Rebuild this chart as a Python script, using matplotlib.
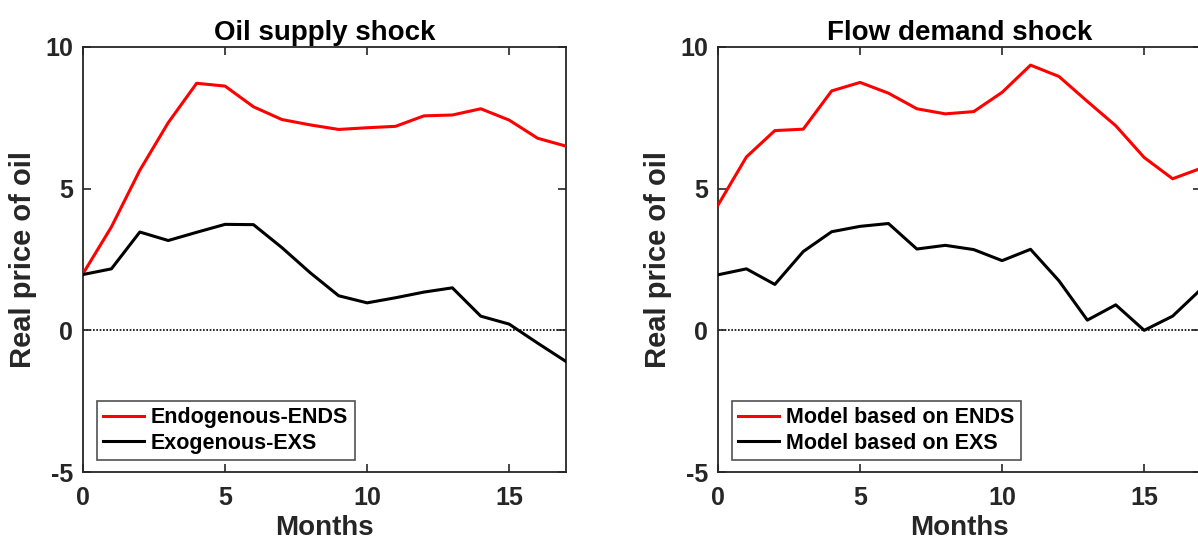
import matplotlib
matplotlib.use("Agg")
import matplotlib.pyplot as plt

months = list(range(18))
supply_ends = [2.0, 3.65, 5.65, 7.33, 8.72, 8.62, 7.89, 7.44, 7.25, 7.09, 7.15, 7.2, 7.57, 7.6, 7.82, 7.42, 6.78, 6.5]
supply_exs = [1.97, 2.17, 3.47, 3.17, 3.46, 3.74, 3.73, 2.92, 2.03, 1.22, 0.97, 1.15, 1.35, 1.5, 0.5, 0.22, -0.45, -1.1]
demand_ends = [4.42, 6.12, 7.05, 7.1, 8.45, 8.75, 8.37, 7.82, 7.64, 7.72, 8.4, 9.36, 8.96, 8.08, 7.22, 6.1, 5.35, 5.72]
demand_exs = [1.96, 2.17, 1.62, 2.78, 3.48, 3.67, 3.77, 2.87, 3.0, 2.85, 2.46, 2.86, 1.75, 0.36, 0.9, 0.0, 0.5, 1.45]

titles = ["Oil supply shock", "Flow demand shock"]
legend_labels = [["Endogenous-ENDS", "Exogenous-EXS"], ["Model based on ENDS", "Model based on EXS"]]
xticks = [0, 5, 10, 15]
yticks = [-5, 0, 5, 10]

plt.rcParams['font.family'] = ['Liberation Sans', 'DejaVu Sans']
plt.rcParams['font.weight'] = 'bold'
plt.rcParams['axes.unicode_minus'] = False

fig = plt.figure(figsize=(11.98, 5.4), dpi=100)
axpos = [[83/1198, 68/540, 483/1198, 425/540], [718/1198, 68/540, 483/1198, 425/540]]
data = [(supply_ends, supply_exs), (demand_ends, demand_exs)]
grey = '#262626'
for i in range(2):
    ax = fig.add_axes(axpos[i])
    ends, exs = data[i]
    ax.axhline(0, color='black', linestyle=(0, (1, 1)), linewidth=1.2, zorder=1)
    ax.plot(months, ends, color='#ff0000', linewidth=2.2, label=legend_labels[i][0], zorder=3)
    ax.plot(months, exs, color='black', linewidth=2.2, label=legend_labels[i][1], zorder=3)
    ax.set_xlim(0, 17)
    ax.set_ylim(-5, 10)
    ax.set_xticks(xticks)
    ax.set_yticks(yticks)
    ax.tick_params(direction='in', top=True, right=True, length=6, width=1.2, colors=grey, labelsize=18)
    ax.tick_params(axis='x', pad=10)
    ax.tick_params(axis='y', pad=7)
    for lab in ax.get_xticklabels() + ax.get_yticklabels():
        lab.set_fontweight('bold')
        lab.set_color(grey)
    for s in ax.spines.values():
        s.set_color(grey)
        s.set_linewidth(1.3)
    ax.set_title(titles[i], fontsize=20, fontweight='bold', color='black', pad=5)
    ax.set_xlabel("Months", fontsize=20, fontweight='bold', color=grey, labelpad=4)
    ax.set_ylabel("Real price of oil", fontsize=21, fontweight='bold', color=grey, labelpad=6)
    leg = ax.legend(loc='lower left', bbox_to_anchor=(0.029, 0.028), fontsize=15.5, frameon=True,
                    fancybox=False, edgecolor=grey, handlelength=1.9, handletextpad=0.3,
                    borderpad=0.3, labelspacing=0.2, borderaxespad=0)
    leg.get_frame().set_linewidth(1.2)
    for t in leg.get_texts():
        t.set_fontweight('bold')

fig.savefig("out.png", dpi=100)
